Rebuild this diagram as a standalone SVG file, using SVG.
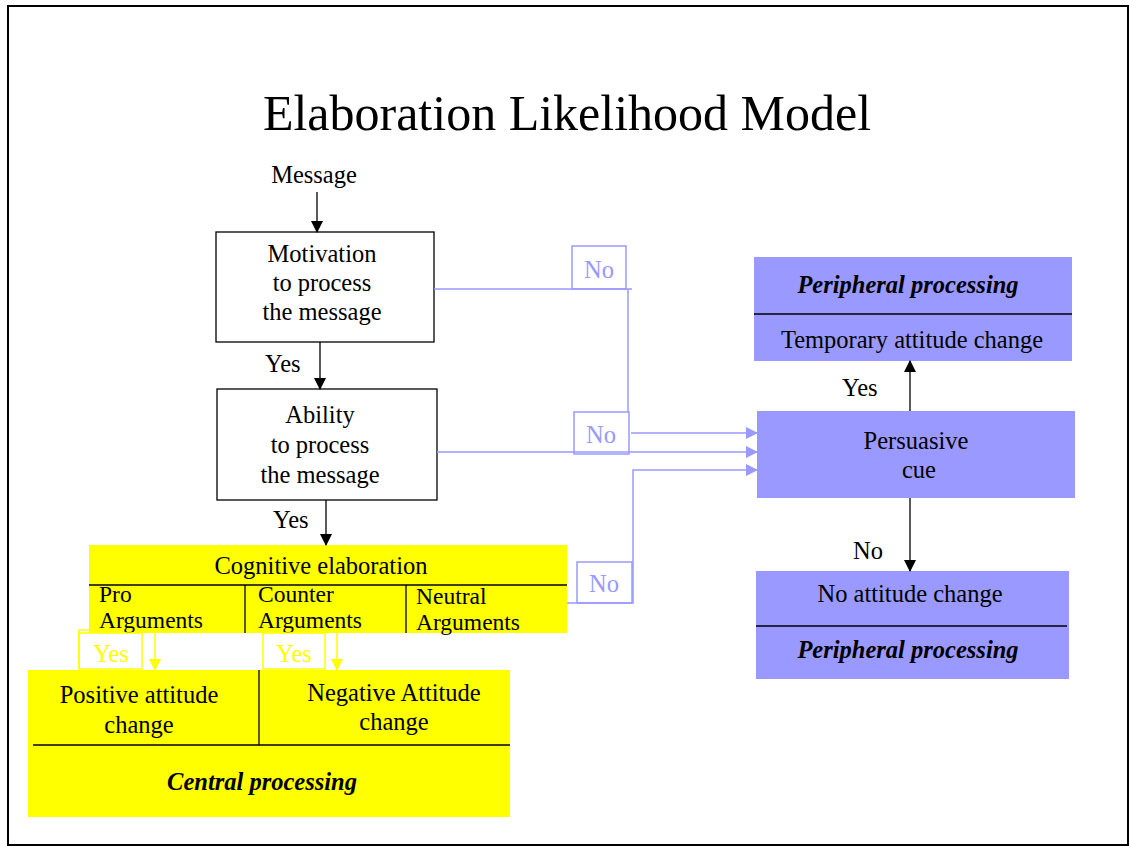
<svg xmlns="http://www.w3.org/2000/svg" width="1129" height="846" viewBox="0 0 1129 846">
<style>
text{font-family:"Liberation Serif","Times New Roman",serif;font-size:24.5px;fill:#000}
.c{text-anchor:middle}
.bi{font-weight:bold;font-style:italic}
.sm{font-size:23.5px}
.blu{fill:#9999FF}
.yel{fill:#FFFF00}
.box{fill:#fff;stroke:#000;stroke-width:1.3}
.div{stroke:#000;stroke-width:1.3;fill:none}
.bl{stroke:#9999FF;stroke-width:1.5;fill:none}
.yl{stroke:#FFFF00;stroke-width:1.5;fill:none}
.k{stroke:#000;stroke-width:1.3;fill:none}
</style>
<defs>
<marker id="ak" markerWidth="12" markerHeight="12" refX="11" refY="6" orient="auto" markerUnits="userSpaceOnUse"><path d="M0,0 L12,6 L0,12 Z" fill="#000"/></marker>
<marker id="ab" markerWidth="12" markerHeight="12" refX="11" refY="6" orient="auto" markerUnits="userSpaceOnUse"><path d="M0,0 L12,6 L0,12 Z" fill="#9999FF"/></marker>
<marker id="ay" markerWidth="12" markerHeight="12" refX="11" refY="6" orient="auto" markerUnits="userSpaceOnUse"><path d="M0,0 L12,6 L0,12 Z" fill="#FFFF00"/></marker>
</defs>
<rect x="0" y="0" width="1129" height="846" fill="#fff"/>
<rect x="8" y="6" width="1120" height="839" fill="none" stroke="#000" stroke-width="2"/>
<text x="567" y="130" class="c" style="font-size:50px">Elaboration Likelihood Model</text>

<g id="message"><text x="314" y="183" class="c">Message</text></g>

<g id="motivation">
<rect x="216" y="232" width="218" height="110" class="box"/>
<text x="322" y="262" class="c">Motivation</text>
<text x="322" y="291" class="c">to process</text>
<text x="322" y="320" class="c">the message</text>
</g>

<g id="ability">
<rect x="217" y="389" width="220" height="111" class="box"/>
<text x="320" y="423" class="c">Ability</text>
<text x="320" y="453" class="c">to process</text>
<text x="320" y="483" class="c">the message</text>
</g>

<g id="cognitive">
<rect x="89" y="545" width="478" height="88" class="yel"/>
<line x1="89" y1="585" x2="567" y2="585" class="div"/>
<line x1="245" y1="585" x2="245" y2="633" class="div"/>
<line x1="406" y1="585" x2="406" y2="633" class="div"/>
<text x="321" y="574" class="c">Cognitive elaboration</text>
<text x="99" y="602" class="sm">Pro</text>
<text x="99" y="628" class="sm">Arguments</text>
<text x="258" y="602" class="sm">Counter</text>
<text x="258" y="628" class="sm">Arguments</text>
<text x="416" y="604" class="sm">Neutral</text>
<text x="416" y="630" class="sm">Arguments</text>
</g>

<g id="central">
<rect x="28" y="670" width="482" height="147" class="yel"/>
<line x1="259" y1="670" x2="259" y2="745" class="div"/>
<line x1="33" y1="745" x2="510" y2="745" class="div"/>
<text x="139" y="703" class="c">Positive attitude</text>
<text x="139" y="733" class="c">change</text>
<text x="394" y="701" class="c">Negative Attitude</text>
<text x="394" y="730" class="c">change</text>
<text x="262" y="790" class="c bi">Central processing</text>
</g>

<g id="temporary">
<rect x="754" y="257" width="318" height="104" class="blu"/>
<line x1="754" y1="314" x2="1072" y2="314" class="div"/>
<text x="908" y="293" class="c bi">Peripheral processing</text>
<text x="912" y="348" class="c">Temporary attitude change</text>
</g>

<g id="persuasive">
<rect x="757" y="411" width="318" height="87" class="blu"/>
<text x="916" y="449" class="c">Persuasive</text>
<text x="919" y="478" class="c">cue</text>
</g>

<g id="noattitude">
<rect x="756" y="571" width="313" height="108" class="blu"/>
<line x1="756" y1="626" x2="1067" y2="626" class="div"/>
<text x="910" y="602" class="c">No attitude change</text>
<text x="908" y="658" class="c bi">Peripheral processing</text>
</g>

<g id="connectors">
<line x1="317" y1="192" x2="317" y2="232" class="k" marker-end="url(#ak)"/>
<line x1="320" y1="342" x2="320" y2="389" class="k" marker-end="url(#ak)"/>
<text x="265" y="372">Yes</text>
<line x1="326" y1="500" x2="326" y2="545" class="k" marker-end="url(#ak)"/>
<text x="273" y="528">Yes</text>

<line x1="910" y1="411" x2="910" y2="361" class="k" marker-end="url(#ak)"/>
<text x="842" y="396">Yes</text>
<line x1="910" y1="498" x2="910" y2="571" class="k" marker-end="url(#ak)"/>
<text x="853" y="559">No</text>

<path d="M434,289 H632 M628,289 V412" class="bl"/>
<rect x="572" y="246" width="54" height="43" class="bl"/>
<text x="599" y="278" class="c blu">No</text>
<rect x="574" y="412" width="55" height="42" class="bl"/>
<text x="601" y="443" class="c blu">No</text>
<line x1="631" y1="433" x2="757" y2="433" class="bl" marker-end="url(#ab)"/>
<line x1="437" y1="452" x2="757" y2="452" class="bl" marker-end="url(#ab)"/>
<path d="M567,603 H633 V470 H757" class="bl" marker-end="url(#ab)"/>
<rect x="577" y="562" width="55" height="41" class="bl"/>
<text x="604" y="592" class="c blu">No</text>

<path d="M89,630 H79 V669" class="yl"/>
<rect x="79" y="633" width="63" height="36" class="yl"/>
<text x="111" y="662" class="c yel">Yes</text>
<line x1="155" y1="633" x2="155" y2="670" class="yl" marker-end="url(#ay)"/>
<rect x="263" y="633" width="62" height="36" class="yl"/>
<text x="294" y="662" class="c yel">Yes</text>
<line x1="337" y1="633" x2="337" y2="670" class="yl" marker-end="url(#ay)"/>
</g>
</svg>
